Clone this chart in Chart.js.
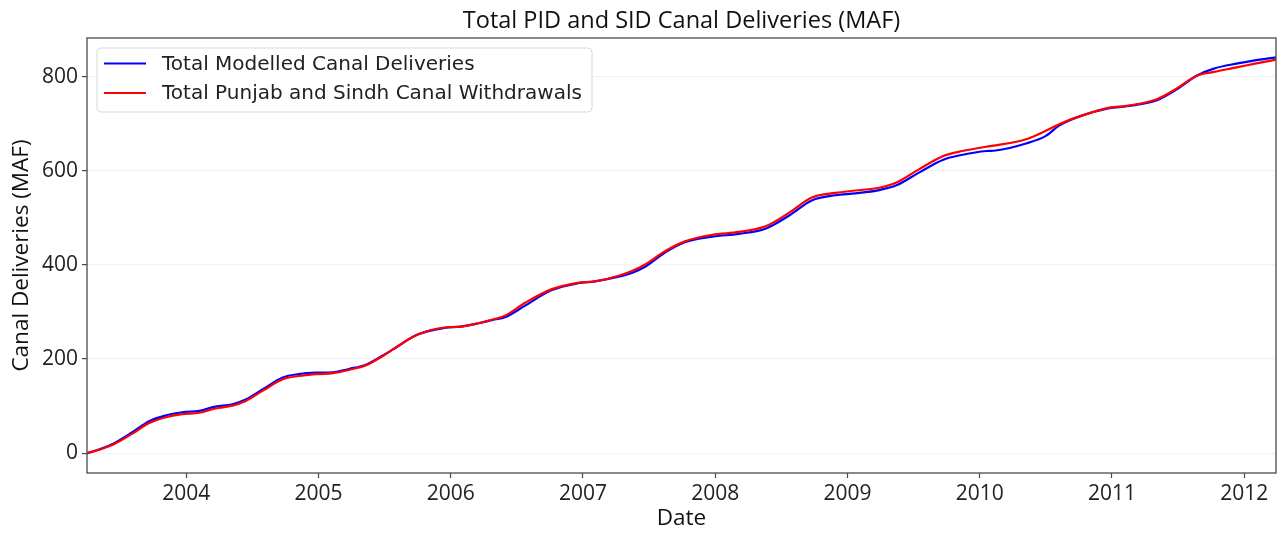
<!DOCTYPE html>
<html>
<head>
<meta charset="utf-8">
<title>Total PID and SID Canal Deliveries</title>
<script src="https://cdn.jsdelivr.net/npm/chart.js@4.4.1/dist/chart.umd.min.js"></script>
<style>
  html, body { margin: 0; padding: 0; background: #fff; }
  #wrap { width: 1282px; height: 533px; }
</style>
</head>
<body>
<div id="wrap"><canvas id="deliveriesChart" width="1282" height="533"></canvas></div>
<script>
// cumulative deliveries (MAF), dates as decimal years
const years = [
  2003.25, 2003.36, 2003.46, 2003.59, 2003.72, 2003.84, 2003.97, 2004.10, 2004.22, 2004.35,
  2004.45, 2004.58, 2004.73, 2004.85, 2004.98, 2005.11, 2005.23, 2005.36, 2005.49, 2005.56,
  2005.75, 2005.95, 2006.08, 2006.21, 2006.33, 2006.41, 2006.56, 2006.76, 2006.96, 2007.09,
  2007.27, 2007.37, 2007.47, 2007.62, 2007.77, 2007.98, 2008.18, 2008.38, 2008.56, 2008.73,
  2008.91, 2009.06, 2009.24, 2009.37, 2009.54, 2009.72, 2009.87, 2010.05, 2010.12, 2010.35,
  2010.50, 2010.60, 2010.76, 2010.98, 2011.11, 2011.34, 2011.49, 2011.64, 2011.77, 2011.95,
  2012.07, 2012.24
];
const modelled = [
  0, 10, 22, 44, 68, 80, 87, 90, 99, 104,
  114, 136, 161, 168, 171, 172, 179, 188, 208, 220,
  252, 266, 269, 276, 284, 289, 313, 346, 361, 365,
  375, 383, 396, 426, 448, 460, 466, 477, 505, 537,
  548, 552, 559, 569, 596, 623, 634, 642, 643, 658,
  674, 696, 716, 733, 737, 750, 773, 802, 817, 828,
  834, 841
];
const withdrawals = [
  0, 9, 20, 41, 64, 76, 83, 86, 95, 101,
  111, 133, 157, 164, 168, 170, 177, 187, 207, 220,
  252, 267, 269, 276, 285, 292, 319, 348, 362, 365,
  377, 387, 401, 429, 450, 464, 470, 482, 511, 543,
  553, 558, 564, 575, 603, 631, 642, 651, 654, 667,
  685, 699, 716, 734, 738, 752, 775, 802, 810, 820,
  827, 836
];
const xTicks = [2004, 2005, 2006, 2007, 2008, 2009, 2010, 2011, 2012];
const yTicks = [0, 200, 400, 600, 800];

const textFont = '"Open Sans", Lato, sans-serif';
const legendFont = '"DejaVu Sans", sans-serif';

const toPoints = (vals) => vals.map((v, i) => ({ x: years[i], y: v }));

// frame around the plot area plus a matplotlib-style legend box
const framePlugin = {
  id: 'frameAndLegend',
  afterDraw(chart) {
    const { ctx, chartArea: a } = chart;
    ctx.save();
    ctx.strokeStyle = '#4a4a4a';
    ctx.lineWidth = 1.3;
    ctx.strokeRect(a.left, a.top, a.right - a.left, a.bottom - a.top);

    // legend
    const bx = 97, by = 48, bw = 495, bh = 64, r = 4;
    ctx.beginPath();
    ctx.moveTo(bx + r, by);
    ctx.arcTo(bx + bw, by, bx + bw, by + bh, r);
    ctx.arcTo(bx + bw, by + bh, bx, by + bh, r);
    ctx.arcTo(bx, by + bh, bx, by, r);
    ctx.arcTo(bx, by, bx + bw, by, r);
    ctx.closePath();
    ctx.fillStyle = 'rgba(255,255,255,0.85)';
    ctx.fill();
    ctx.strokeStyle = '#d9d9d9';
    ctx.lineWidth = 1;
    ctx.stroke();

    ctx.font = '20px ' + legendFont;
    ctx.textBaseline = 'middle';
    ctx.textAlign = 'left';
    chart.data.datasets.forEach((ds, i) => {
      const y = 63.5 + i * 29.5;
      ctx.strokeStyle = ds.borderColor;
      ctx.lineWidth = 2;
      ctx.beginPath();
      ctx.moveTo(104, y);
      ctx.lineTo(146, y);
      ctx.stroke();
      ctx.fillStyle = '#222';
      ctx.fillText(ds.label, 162, y + 1);
    });
    ctx.restore();
  }
};

const ctx = document.getElementById('deliveriesChart').getContext('2d');
new Chart(ctx, {
  type: 'line',
  data: {
    datasets: [
      {
        label: 'Total Modelled Canal Deliveries',
        data: toPoints(modelled),
        borderColor: '#0000ff',
        order: 1
      },
      {
        label: 'Total Punjab and Sindh Canal Withdrawals',
        data: toPoints(withdrawals),
        borderColor: '#ff0000',
        order: 0
      }
    ]
  },
  options: {
    responsive: false,
    animation: false,
    layout: { padding: { left: 0, right: 6, top: 0, bottom: 0 } },
    elements: {
      point: { radius: 0 },
      line: { borderWidth: 2.2, cubicInterpolationMode: 'monotone', fill: false }
    },
    plugins: {
      legend: { display: false },
      tooltip: { enabled: false },
      title: {
        display: true,
        fullSize: false,
        text: 'Total PID and SID Canal Deliveries (MAF)',
        color: '#111',
        font: { family: textFont, size: 23.5, weight: 'normal', lineHeight: 1.2 },
        padding: { top: 7, bottom: 2.8 }
      }
    },
    scales: {
      x: {
        type: 'linear',
        min: 2003.25,
        max: 2012.24,
        afterBuildTicks: (scale) => { scale.ticks = xTicks.map(v => ({ value: v })); },
        afterFit: (scale) => { scale.height = 60; },
        ticks: {
          color: '#222',
          padding: 3,
          font: { family: textFont, size: 21 },
          callback: (v) => String(v)
        },
        grid: {
          drawOnChartArea: false,
          drawTicks: true,
          tickLength: 5,
          tickColor: '#4a4a4a',
          tickWidth: 1.2
        },
        border: { display: false },
        title: {
          display: true,
          text: 'Date',
          color: '#111',
          font: { family: textFont, size: 22.5 },
          padding: { top: 0, bottom: 1 }
        }
      },
      y: {
        min: -42,
        max: 882,
        afterBuildTicks: (scale) => { scale.ticks = yTicks.map(v => ({ value: v })); },
        afterFit: (scale) => { scale.width = 87; },
        ticks: {
          color: '#222',
          padding: 4,
          font: { family: textFont, size: 21 },
          callback: (v) => String(v)
        },
        grid: {
          color: '#f2f2f2',
          lineWidth: 1.2,
          drawTicks: true,
          tickLength: 5,
          tickColor: '#4a4a4a',
          tickWidth: 1.2
        },
        border: { display: false },
        title: {
          display: true,
          text: 'Canal Deliveries (MAF)',
          color: '#111',
          font: { family: textFont, size: 22.5 },
          padding: { top: 8.5, bottom: 0 }
        }
      }
    }
  },
  plugins: [framePlugin]
});
</script>
</body>
</html>
